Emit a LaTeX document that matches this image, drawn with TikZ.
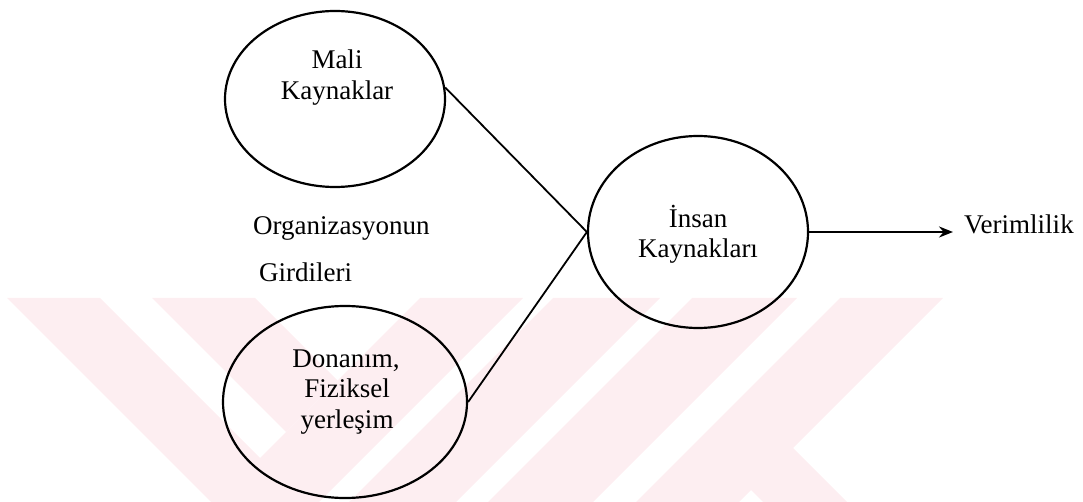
\documentclass[tikz,border=0pt]{standalone}
\usepackage{fontspec}
\setmainfont{Liberation Serif}
\usetikzlibrary{shapes.geometric,arrows.meta}
\definecolor{wmpink}{RGB}{253,238,241}
\begin{document}
\begin{tikzpicture}[x=1pt,y=-1pt,
  blob/.style={draw,ellipse,line width=2.2pt,inner sep=0pt},
  word/.style={inner sep=0pt,anchor=base,font=\fontsize{27}{30}\selectfont},
  link/.style={line width=1.8pt},
  band/.style={fill=wmpink,draw=none}]
\useasboundingbox (0,0) rectangle (1083,502);

% pale striped emblem in the lower half
\fill[band] (7,298) -- (100,298) -- (304,502) -- (211,502) -- cycle;
\fill[band] (152,298) -- (255,298) -- (337.5,380.5) -- (286,432) -- cycle;
\fill[band] (420,298) -- (523,298) -- (319,502) -- (216,502) -- cycle;
\fill[band] (553,298) -- (660,298) -- (456,502) -- (349,502) -- cycle;
\fill[band] (692,298) -- (797,298) -- (593,502) -- (488,502) -- cycle;
\fill[band] (840,298) -- (943,298) -- (739,502) -- (636,502) -- cycle;
\fill[band] (699.5,438.5) -- (793,448) -- (847,502) -- (763,502) -- cycle;

% resources
\node[blob,minimum width=220pt,minimum height=176pt] (mali) at (335,99) {};
\node[blob,minimum width=244pt,minimum height=192pt] (donanim) at (345,402) {};
\node[blob,minimum width=220pt,minimum height=192pt] (insan) at (698,232) {};

\node[word] (mali1) at (337,69) {Mali};
\node[word] (mali2) at (337,100) {Kaynaklar};
\node[word] (don1) at (346,367) {Donanım,};
\node[word] (don2) at (347,397) {Fiziksel};
\node[word] (don3) at (347,428) {yerleşim};
\node[word] (ins1) at (698,228) {İnsan};
\node[word] (ins2) at (698,258) {Kaynakları};
\node[word,anchor=base west] (org1) at (253,235) {Organizasyonun};
\node[word,anchor=base west] (org2) at (259,282) {Girdileri};
\node[word,anchor=base west,inner xsep=11pt] (verim) at (953,234) {Verimlilik};

% connections
\draw[link] (mali.6) -- (insan.west);
\draw[link] (donanim.east) -- (insan.west);
\draw[link,-{Stealth[length=14pt,width=11pt]}] (insan.east) -- (insan.east -| verim.west);
\end{tikzpicture}
\end{document}
